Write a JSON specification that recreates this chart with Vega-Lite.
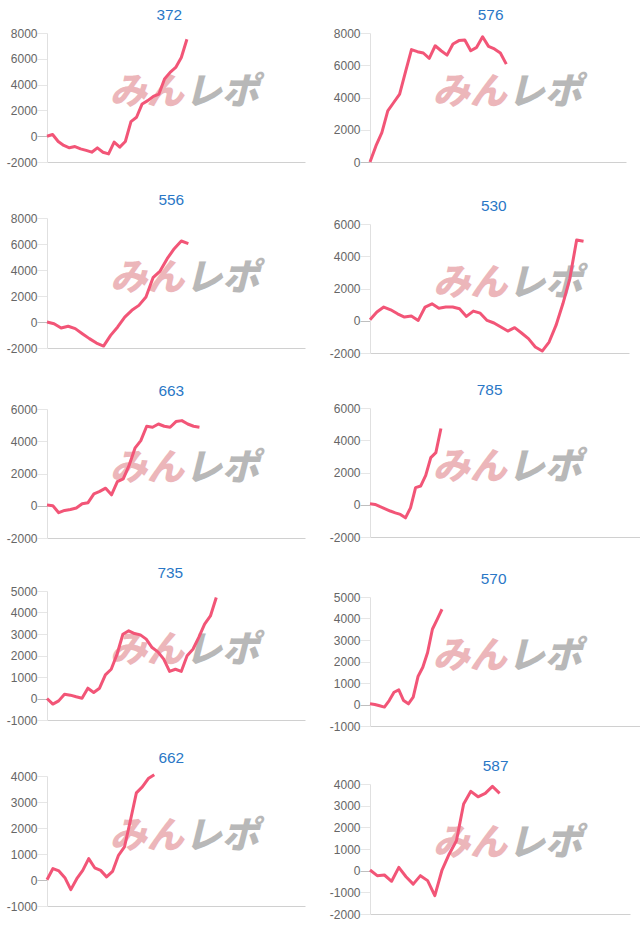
{
  "$schema": "https://vega.github.io/schema/vega-lite/v6.json",
  "background": "white",
  "padding": {"left": 6, "top": 7, "right": 0, "bottom": 0},
  "spacing": 24,
  "config": {
    "view": {"stroke": null},
    "axisY": {"labelFont": "Liberation Sans", "labelFontSize": 12, "labelColor": "#666666", "labelPadding": 0, "tickSize": 10, "domainColor": "#e0e0e0", "title": null, "labelExpr": "'' + datum.value"},
    "axisX": {"labels": false, "ticks": false, "grid": false, "domainColor": "#d0d0d0", "title": null},
    "title": {"font": "Liberation Sans", "fontSize": 15.4, "fontWeight": "normal", "color": "#2a77c6", "frame": "group", "anchor": "middle", "baseline": "bottom", "offset": 4},
    "line": {"color": "#f25577", "strokeWidth": 3, "clip": true, "strokeJoin": "round"},
    "text": {"font": "Noto Sans CJK JP", "fontSize": 37, "fontWeight": 900, "fontStyle": "italic", "baseline": "middle", "dy": 5}
  },
  "hconcat": [
    {
      "vconcat": [
        {
          "width": 258, "height": 129,
          "title": {"text": "372", "dx": -6.7},
          "layer": [
            {"data": {"values": [{}]}, "mark": {"type": "text", "text": "みん", "color": "#ecb6ba", "align": "right", "dx": -2},
             "encoding": {"x": {"datum": 24.8, "type": "quantitative", "scale": {"domain": [0, 46.1], "nice": false, "zero": false}, "axis": {"minExtent": 30, "maxExtent": 30}},
                          "y": {"datum": 3700, "type": "quantitative", "scale": {"domain": [-2000, 8000], "nice": false, "zero": false}, "axis": {"values": [-2000, 0, 2000, 4000, 6000, 8000], "gridColor": {"condition": {"test": "datum.value === 0", "value": "#bfbfbf"}, "value": "#e6e6e6"}, "tickColor": {"condition": {"test": "datum.value === 0", "value": "#bfbfbf"}, "value": "#e6e6e6"}}}}},
            {"data": {"values": [{}]}, "mark": {"type": "text", "text": "レポ", "color": "#b8b8b8", "align": "left", "dx": -1},
             "encoding": {"x": {"datum": 24.8, "type": "quantitative", "scale": {"domain": [0, 46.1], "nice": false, "zero": false}, "axis": {"minExtent": 30, "maxExtent": 30}},
                          "y": {"datum": 3700, "type": "quantitative", "scale": {"domain": [-2000, 8000], "nice": false, "zero": false}, "axis": {"values": [-2000, 0, 2000, 4000, 6000, 8000], "gridColor": {"condition": {"test": "datum.value === 0", "value": "#bfbfbf"}, "value": "#e6e6e6"}, "tickColor": {"condition": {"test": "datum.value === 0", "value": "#bfbfbf"}, "value": "#e6e6e6"}}}}},
            {"data": {"values": [{"i":0,"v":0},{"i":1,"v":130},{"i":2,"v":-410},{"i":3,"v":-720},{"i":4,"v":-900},{"i":5,"v":-800},{"i":6,"v":-980},{"i":7,"v":-1100},{"i":8,"v":-1240},{"i":9,"v":-900},{"i":10,"v":-1240},{"i":11,"v":-1370},{"i":12,"v":-460},{"i":13,"v":-850},{"i":14,"v":-410},{"i":15,"v":1130},{"i":16,"v":1470},{"i":17,"v":2500},{"i":18,"v":2760},{"i":19,"v":3090},{"i":20,"v":3270},{"i":21,"v":4430},{"i":22,"v":4950},{"i":23,"v":5330},{"i":24,"v":6100},{"i":25,"v":7520}]},
             "mark": {"type": "line"},
             "encoding": {"x": {"field": "i", "type": "quantitative", "scale": {"domain": [0, 46.1], "nice": false, "zero": false}, "axis": {"minExtent": 30, "maxExtent": 30}},
                          "y": {"field": "v", "type": "quantitative", "scale": {"domain": [-2000, 8000], "nice": false, "zero": false},
                                "axis": {"values": [-2000, 0, 2000, 4000, 6000, 8000], "gridColor": {"condition": {"test": "datum.value === 0", "value": "#bfbfbf"}, "value": "#e6e6e6"}, "tickColor": {"condition": {"test": "datum.value === 0", "value": "#bfbfbf"}, "value": "#e6e6e6"}}}}}
          ]
        },
        {
          "width": 258, "height": 130,
          "title": {"text": "556", "dx": -4.7},
          "layer": [
            {"data": {"values": [{}]}, "mark": {"type": "text", "text": "みん", "color": "#ecb6ba", "align": "right", "dx": -2},
             "encoding": {"x": {"datum": 19.7, "type": "quantitative", "scale": {"domain": [0, 36.5], "nice": false, "zero": false}, "axis": {"minExtent": 35, "maxExtent": 35}},
                          "y": {"datum": 3730, "type": "quantitative", "scale": {"domain": [-2000, 8000], "nice": false, "zero": false}, "axis": {"values": [-2000, 0, 2000, 4000, 6000, 8000], "gridColor": {"condition": {"test": "datum.value === 0", "value": "#bfbfbf"}, "value": "#e6e6e6"}, "tickColor": {"condition": {"test": "datum.value === 0", "value": "#bfbfbf"}, "value": "#e6e6e6"}}}}},
            {"data": {"values": [{}]}, "mark": {"type": "text", "text": "レポ", "color": "#b8b8b8", "align": "left", "dx": -1},
             "encoding": {"x": {"datum": 19.7, "type": "quantitative", "scale": {"domain": [0, 36.5], "nice": false, "zero": false}, "axis": {"minExtent": 35, "maxExtent": 35}},
                          "y": {"datum": 3730, "type": "quantitative", "scale": {"domain": [-2000, 8000], "nice": false, "zero": false}, "axis": {"values": [-2000, 0, 2000, 4000, 6000, 8000], "gridColor": {"condition": {"test": "datum.value === 0", "value": "#bfbfbf"}, "value": "#e6e6e6"}, "tickColor": {"condition": {"test": "datum.value === 0", "value": "#bfbfbf"}, "value": "#e6e6e6"}}}}},
            {"data": {"values": [{"i":0,"v":0},{"i":1,"v":-130},{"i":2,"v":-460},{"i":3,"v":-330},{"i":4,"v":-510},{"i":5,"v":-900},{"i":6,"v":-1280},{"i":7,"v":-1620},{"i":8,"v":-1850},{"i":9,"v":-1030},{"i":10,"v":-380},{"i":11,"v":380},{"i":12,"v":900},{"i":13,"v":1280},{"i":14,"v":1920},{"i":15,"v":3410},{"i":16,"v":3920},{"i":17,"v":4870},{"i":18,"v":5640},{"i":19,"v":6230},{"i":20,"v":6030}]},
             "mark": {"type": "line"},
             "encoding": {"x": {"field": "i", "type": "quantitative", "scale": {"domain": [0, 36.5], "nice": false, "zero": false}, "axis": {"minExtent": 35, "maxExtent": 35}},
                          "y": {"field": "v", "type": "quantitative", "scale": {"domain": [-2000, 8000], "nice": false, "zero": false},
                                "axis": {"values": [-2000, 0, 2000, 4000, 6000, 8000], "gridColor": {"condition": {"test": "datum.value === 0", "value": "#bfbfbf"}, "value": "#e6e6e6"}, "tickColor": {"condition": {"test": "datum.value === 0", "value": "#bfbfbf"}, "value": "#e6e6e6"}}}}}
          ]
        },
        {
          "width": 258, "height": 129,
          "title": {"text": "663", "dx": -4.7},
          "layer": [
            {"data": {"values": [{}]}, "mark": {"type": "text", "text": "みん", "color": "#ecb6ba", "align": "right", "dx": -2},
             "encoding": {"x": {"datum": 23.7, "type": "quantitative", "scale": {"domain": [0, 44], "nice": false, "zero": false}, "axis": {"minExtent": 27, "maxExtent": 27}},
                          "y": {"datum": 2560, "type": "quantitative", "scale": {"domain": [-2000, 6000], "nice": false, "zero": false}, "axis": {"values": [-2000, 0, 2000, 4000, 6000], "gridColor": {"condition": {"test": "datum.value === 0", "value": "#bfbfbf"}, "value": "#e6e6e6"}, "tickColor": {"condition": {"test": "datum.value === 0", "value": "#bfbfbf"}, "value": "#e6e6e6"}}}}},
            {"data": {"values": [{}]}, "mark": {"type": "text", "text": "レポ", "color": "#b8b8b8", "align": "left", "dx": -1},
             "encoding": {"x": {"datum": 23.7, "type": "quantitative", "scale": {"domain": [0, 44], "nice": false, "zero": false}, "axis": {"minExtent": 27, "maxExtent": 27}},
                          "y": {"datum": 2560, "type": "quantitative", "scale": {"domain": [-2000, 6000], "nice": false, "zero": false}, "axis": {"values": [-2000, 0, 2000, 4000, 6000], "gridColor": {"condition": {"test": "datum.value === 0", "value": "#bfbfbf"}, "value": "#e6e6e6"}, "tickColor": {"condition": {"test": "datum.value === 0", "value": "#bfbfbf"}, "value": "#e6e6e6"}}}}},
            {"data": {"values": [{"i":0,"v":40},{"i":1,"v":0},{"i":2,"v":-430},{"i":3,"v":-290},{"i":4,"v":-230},{"i":5,"v":-140},{"i":6,"v":120},{"i":7,"v":190},{"i":8,"v":740},{"i":9,"v":890},{"i":10,"v":1090},{"i":11,"v":680},{"i":12,"v":1500},{"i":13,"v":1670},{"i":14,"v":2500},{"i":15,"v":3570},{"i":16,"v":4040},{"i":17,"v":4930},{"i":18,"v":4870},{"i":19,"v":5070},{"i":20,"v":4930},{"i":21,"v":4870},{"i":22,"v":5220},{"i":23,"v":5280},{"i":24,"v":5070},{"i":25,"v":4930},{"i":26,"v":4870}]},
             "mark": {"type": "line"},
             "encoding": {"x": {"field": "i", "type": "quantitative", "scale": {"domain": [0, 44], "nice": false, "zero": false}, "axis": {"minExtent": 27, "maxExtent": 27}},
                          "y": {"field": "v", "type": "quantitative", "scale": {"domain": [-2000, 6000], "nice": false, "zero": false},
                                "axis": {"values": [-2000, 0, 2000, 4000, 6000], "gridColor": {"condition": {"test": "datum.value === 0", "value": "#bfbfbf"}, "value": "#e6e6e6"}, "tickColor": {"condition": {"test": "datum.value === 0", "value": "#bfbfbf"}, "value": "#e6e6e6"}}}}}
          ]
        },
        {
          "width": 258, "height": 129,
          "title": {"text": "735", "dx": -5.7},
          "layer": [
            {"data": {"values": [{}]}, "mark": {"type": "text", "text": "みん", "color": "#ecb6ba", "align": "right", "dx": -2},
             "encoding": {"x": {"datum": 23.8, "type": "quantitative", "scale": {"domain": [0, 44.2], "nice": false, "zero": false}, "axis": {"minExtent": 30, "maxExtent": 30}},
                          "y": {"datum": 2420, "type": "quantitative", "scale": {"domain": [-1000, 5000], "nice": false, "zero": false}, "axis": {"values": [-1000, 0, 1000, 2000, 3000, 4000, 5000], "gridColor": {"condition": {"test": "datum.value === 0", "value": "#bfbfbf"}, "value": "#e6e6e6"}, "tickColor": {"condition": {"test": "datum.value === 0", "value": "#bfbfbf"}, "value": "#e6e6e6"}}}}},
            {"data": {"values": [{}]}, "mark": {"type": "text", "text": "レポ", "color": "#b8b8b8", "align": "left", "dx": -1},
             "encoding": {"x": {"datum": 23.8, "type": "quantitative", "scale": {"domain": [0, 44.2], "nice": false, "zero": false}, "axis": {"minExtent": 30, "maxExtent": 30}},
                          "y": {"datum": 2420, "type": "quantitative", "scale": {"domain": [-1000, 5000], "nice": false, "zero": false}, "axis": {"values": [-1000, 0, 1000, 2000, 3000, 4000, 5000], "gridColor": {"condition": {"test": "datum.value === 0", "value": "#bfbfbf"}, "value": "#e6e6e6"}, "tickColor": {"condition": {"test": "datum.value === 0", "value": "#bfbfbf"}, "value": "#e6e6e6"}}}}},
            {"data": {"values": [{"i":0,"v":0},{"i":1,"v":-260},{"i":2,"v":-110},{"i":3,"v":200},{"i":4,"v":155},{"i":5,"v":80},{"i":6,"v":15},{"i":7,"v":480},{"i":8,"v":280},{"i":9,"v":480},{"i":10,"v":1100},{"i":11,"v":1360},{"i":12,"v":2060},{"i":13,"v":2990},{"i":14,"v":3150},{"i":15,"v":3020},{"i":16,"v":2960},{"i":17,"v":2760},{"i":18,"v":2370},{"i":19,"v":2170},{"i":20,"v":1830},{"i":21,"v":1260},{"i":22,"v":1360},{"i":23,"v":1260},{"i":24,"v":1990},{"i":25,"v":2290},{"i":26,"v":2840},{"i":27,"v":3460},{"i":28,"v":3840},{"i":29,"v":4700}]},
             "mark": {"type": "line"},
             "encoding": {"x": {"field": "i", "type": "quantitative", "scale": {"domain": [0, 44.2], "nice": false, "zero": false}, "axis": {"minExtent": 30, "maxExtent": 30}},
                          "y": {"field": "v", "type": "quantitative", "scale": {"domain": [-1000, 5000], "nice": false, "zero": false},
                                "axis": {"values": [-1000, 0, 1000, 2000, 3000, 4000, 5000], "gridColor": {"condition": {"test": "datum.value === 0", "value": "#bfbfbf"}, "value": "#e6e6e6"}, "tickColor": {"condition": {"test": "datum.value === 0", "value": "#bfbfbf"}, "value": "#e6e6e6"}}}}}
          ]
        },
        {
          "width": 258, "height": 130,
          "title": {"text": "662", "dx": -4.7},
          "layer": [
            {"data": {"values": [{}]}, "mark": {"type": "text", "text": "みん", "color": "#ecb6ba", "align": "right", "dx": -2},
             "encoding": {"x": {"datum": 23.3, "type": "quantitative", "scale": {"domain": [0, 43.3], "nice": false, "zero": false}, "axis": {"minExtent": 0, "maxExtent": 0}},
                          "y": {"datum": 1865, "type": "quantitative", "scale": {"domain": [-1000, 4000], "nice": false, "zero": false}, "axis": {"values": [-1000, 0, 1000, 2000, 3000, 4000], "gridColor": {"condition": {"test": "datum.value === 0", "value": "#bfbfbf"}, "value": "#e6e6e6"}, "tickColor": {"condition": {"test": "datum.value === 0", "value": "#bfbfbf"}, "value": "#e6e6e6"}}}}},
            {"data": {"values": [{}]}, "mark": {"type": "text", "text": "レポ", "color": "#b8b8b8", "align": "left", "dx": -1},
             "encoding": {"x": {"datum": 23.3, "type": "quantitative", "scale": {"domain": [0, 43.3], "nice": false, "zero": false}, "axis": {"minExtent": 0, "maxExtent": 0}},
                          "y": {"datum": 1865, "type": "quantitative", "scale": {"domain": [-1000, 4000], "nice": false, "zero": false}, "axis": {"values": [-1000, 0, 1000, 2000, 3000, 4000], "gridColor": {"condition": {"test": "datum.value === 0", "value": "#bfbfbf"}, "value": "#e6e6e6"}, "tickColor": {"condition": {"test": "datum.value === 0", "value": "#bfbfbf"}, "value": "#e6e6e6"}}}}},
            {"data": {"values": [{"i":0,"v":10},{"i":1,"v":440},{"i":2,"v":350},{"i":3,"v":90},{"i":4,"v":-370},{"i":5,"v":50},{"i":6,"v":370},{"i":7,"v":820},{"i":8,"v":470},{"i":9,"v":370},{"i":10,"v":120},{"i":11,"v":330},{"i":12,"v":950},{"i":13,"v":1270},{"i":14,"v":2290},{"i":15,"v":3350},{"i":16,"v":3580},{"i":17,"v":3900},{"i":18,"v":4050}]},
             "mark": {"type": "line"},
             "encoding": {"x": {"field": "i", "type": "quantitative", "scale": {"domain": [0, 43.3], "nice": false, "zero": false}, "axis": {"minExtent": 0, "maxExtent": 0}},
                          "y": {"field": "v", "type": "quantitative", "scale": {"domain": [-1000, 4000], "nice": false, "zero": false},
                                "axis": {"values": [-1000, 0, 1000, 2000, 3000, 4000], "gridColor": {"condition": {"test": "datum.value === 0", "value": "#bfbfbf"}, "value": "#e6e6e6"}, "tickColor": {"condition": {"test": "datum.value === 0", "value": "#bfbfbf"}, "value": "#e6e6e6"}}}}}
          ]
        }
      ],
      "spacing": 0
    },
    {
      "concat": [
        {
          "width": 256, "height": 129,
          "title": {"text": "576", "dx": -7.4},
          "layer": [
            {"data": {"values": [{}]}, "mark": {"type": "text", "text": "みん", "color": "#ecb6ba", "align": "right", "dx": -2},
             "encoding": {"x": {"datum": 23.4, "type": "quantitative", "scale": {"domain": [0, 43.2], "nice": false, "zero": false}, "axis": {"minExtent": 36, "maxExtent": 36}},
                          "y": {"datum": 4560, "type": "quantitative", "scale": {"domain": [0, 8000], "nice": false, "zero": false}, "axis": {"values": [0, 2000, 4000, 6000, 8000], "gridColor": {"condition": {"test": "datum.value === 0", "value": "#bfbfbf"}, "value": "#e6e6e6"}, "tickColor": {"condition": {"test": "datum.value === 0", "value": "#bfbfbf"}, "value": "#e6e6e6"}}}}},
            {"data": {"values": [{}]}, "mark": {"type": "text", "text": "レポ", "color": "#b8b8b8", "align": "left", "dx": -1},
             "encoding": {"x": {"datum": 23.4, "type": "quantitative", "scale": {"domain": [0, 43.2], "nice": false, "zero": false}, "axis": {"minExtent": 36, "maxExtent": 36}},
                          "y": {"datum": 4560, "type": "quantitative", "scale": {"domain": [0, 8000], "nice": false, "zero": false}, "axis": {"values": [0, 2000, 4000, 6000, 8000], "gridColor": {"condition": {"test": "datum.value === 0", "value": "#bfbfbf"}, "value": "#e6e6e6"}, "tickColor": {"condition": {"test": "datum.value === 0", "value": "#bfbfbf"}, "value": "#e6e6e6"}}}}},
            {"data": {"values": [{"i":0,"v":0},{"i":1,"v":995},{"i":2,"v":1820},{"i":3,"v":3170},{"i":4,"v":3690},{"i":5,"v":4210},{"i":6,"v":5600},{"i":7,"v":6970},{"i":8,"v":6840},{"i":9,"v":6760},{"i":10,"v":6430},{"i":11,"v":7210},{"i":12,"v":6900},{"i":13,"v":6630},{"i":14,"v":7320},{"i":15,"v":7530},{"i":16,"v":7570},{"i":17,"v":6900},{"i":18,"v":7110},{"i":19,"v":7770},{"i":20,"v":7170},{"i":21,"v":7010},{"i":22,"v":6760},{"i":23,"v":6070}]},
             "mark": {"type": "line"},
             "encoding": {"x": {"field": "i", "type": "quantitative", "scale": {"domain": [0, 43.2], "nice": false, "zero": false}, "axis": {"minExtent": 36, "maxExtent": 36}},
                          "y": {"field": "v", "type": "quantitative", "scale": {"domain": [0, 8000], "nice": false, "zero": false},
                                "axis": {"values": [0, 2000, 4000, 6000, 8000], "gridColor": {"condition": {"test": "datum.value === 0", "value": "#bfbfbf"}, "value": "#e6e6e6"}, "tickColor": {"condition": {"test": "datum.value === 0", "value": "#bfbfbf"}, "value": "#e6e6e6"}}}}}
          ]
        },
        {
          "width": 259, "height": 129,
          "title": {"text": "530", "dx": -5.7},
          "layer": [
            {"data": {"values": [{}]}, "mark": {"type": "text", "text": "みん", "color": "#ecb6ba", "align": "right", "dx": -2},
             "encoding": {"x": {"datum": 20.2, "type": "quantitative", "scale": {"domain": [0, 37.6], "nice": false, "zero": false}, "axis": {"minExtent": 29, "maxExtent": 29}},
                          "y": {"datum": 2560, "type": "quantitative", "scale": {"domain": [-2000, 6000], "nice": false, "zero": false}, "axis": {"values": [-2000, 0, 2000, 4000, 6000], "gridColor": {"condition": {"test": "datum.value === 0", "value": "#bfbfbf"}, "value": "#e6e6e6"}, "tickColor": {"condition": {"test": "datum.value === 0", "value": "#bfbfbf"}, "value": "#e6e6e6"}}}}},
            {"data": {"values": [{}]}, "mark": {"type": "text", "text": "レポ", "color": "#b8b8b8", "align": "left", "dx": -1},
             "encoding": {"x": {"datum": 20.2, "type": "quantitative", "scale": {"domain": [0, 37.6], "nice": false, "zero": false}, "axis": {"minExtent": 29, "maxExtent": 29}},
                          "y": {"datum": 2560, "type": "quantitative", "scale": {"domain": [-2000, 6000], "nice": false, "zero": false}, "axis": {"values": [-2000, 0, 2000, 4000, 6000], "gridColor": {"condition": {"test": "datum.value === 0", "value": "#bfbfbf"}, "value": "#e6e6e6"}, "tickColor": {"condition": {"test": "datum.value === 0", "value": "#bfbfbf"}, "value": "#e6e6e6"}}}}},
            {"data": {"values": [{"i":0,"v":60},{"i":1,"v":540},{"i":2,"v":850},{"i":3,"v":680},{"i":4,"v":430},{"i":5,"v":230},{"i":6,"v":290},{"i":7,"v":20},{"i":8,"v":850},{"i":9,"v":1050},{"i":10,"v":780},{"i":11,"v":850},{"i":12,"v":850},{"i":13,"v":740},{"i":14,"v":270},{"i":15,"v":600},{"i":16,"v":470},{"i":17,"v":20},{"i":18,"v":-140},{"i":19,"v":-390},{"i":20,"v":-640},{"i":21,"v":-430},{"i":22,"v":-760},{"i":23,"v":-1110},{"i":24,"v":-1630},{"i":25,"v":-1880},{"i":26,"v":-1320},{"i":27,"v":-290},{"i":28,"v":1050},{"i":29,"v":2600},{"i":30,"v":5010},{"i":31,"v":4930}]},
             "mark": {"type": "line"},
             "encoding": {"x": {"field": "i", "type": "quantitative", "scale": {"domain": [0, 37.6], "nice": false, "zero": false}, "axis": {"minExtent": 29, "maxExtent": 29}},
                          "y": {"field": "v", "type": "quantitative", "scale": {"domain": [-2000, 6000], "nice": false, "zero": false},
                                "axis": {"values": [-2000, 0, 2000, 4000, 6000], "gridColor": {"condition": {"test": "datum.value === 0", "value": "#bfbfbf"}, "value": "#e6e6e6"}, "tickColor": {"condition": {"test": "datum.value === 0", "value": "#bfbfbf"}, "value": "#e6e6e6"}}}}}
          ]
        },
        {
          "width": 270, "height": 129,
          "title": {"text": "785", "dx": -15.4},
          "layer": [
            {"data": {"values": [{}]}, "mark": {"type": "text", "text": "みん", "color": "#ecb6ba", "align": "right", "dx": -2},
             "encoding": {"x": {"datum": 27.4, "type": "quantitative", "scale": {"domain": [0, 53.3], "nice": false, "zero": false}, "axis": {"minExtent": 34, "maxExtent": 34}},
                          "y": {"datum": 2560, "type": "quantitative", "scale": {"domain": [-2000, 6000], "nice": false, "zero": false}, "axis": {"values": [-2000, 0, 2000, 4000, 6000], "gridColor": {"condition": {"test": "datum.value === 0", "value": "#bfbfbf"}, "value": "#e6e6e6"}, "tickColor": {"condition": {"test": "datum.value === 0", "value": "#bfbfbf"}, "value": "#e6e6e6"}}}}},
            {"data": {"values": [{}]}, "mark": {"type": "text", "text": "レポ", "color": "#b8b8b8", "align": "left", "dx": -1},
             "encoding": {"x": {"datum": 27.4, "type": "quantitative", "scale": {"domain": [0, 53.3], "nice": false, "zero": false}, "axis": {"minExtent": 34, "maxExtent": 34}},
                          "y": {"datum": 2560, "type": "quantitative", "scale": {"domain": [-2000, 6000], "nice": false, "zero": false}, "axis": {"values": [-2000, 0, 2000, 4000, 6000], "gridColor": {"condition": {"test": "datum.value === 0", "value": "#bfbfbf"}, "value": "#e6e6e6"}, "tickColor": {"condition": {"test": "datum.value === 0", "value": "#bfbfbf"}, "value": "#e6e6e6"}}}}},
            {"data": {"values": [{"i":0,"v":60},{"i":1,"v":20},{"i":2,"v":-120},{"i":3,"v":-250},{"i":4,"v":-390},{"i":5,"v":-500},{"i":6,"v":-600},{"i":7,"v":-810},{"i":8,"v":-190},{"i":9,"v":1060},{"i":10,"v":1160},{"i":11,"v":1820},{"i":12,"v":2920},{"i":13,"v":3230},{"i":14,"v":4730}]},
             "mark": {"type": "line"},
             "encoding": {"x": {"field": "i", "type": "quantitative", "scale": {"domain": [0, 53.3], "nice": false, "zero": false}, "axis": {"minExtent": 34, "maxExtent": 34}},
                          "y": {"field": "v", "type": "quantitative", "scale": {"domain": [-2000, 6000], "nice": false, "zero": false},
                                "axis": {"values": [-2000, 0, 2000, 4000, 6000], "gridColor": {"condition": {"test": "datum.value === 0", "value": "#bfbfbf"}, "value": "#e6e6e6"}, "tickColor": {"condition": {"test": "datum.value === 0", "value": "#bfbfbf"}, "value": "#e6e6e6"}}}}}
          ]
        },
        {
          "width": 270, "height": 129,
          "title": {"text": "570", "dx": -11.4},
          "layer": [
            {"data": {"values": [{}]}, "mark": {"type": "text", "text": "みん", "color": "#ecb6ba", "align": "right", "dx": -2},
             "encoding": {"x": {"datum": 28.9, "type": "quantitative", "scale": {"domain": [0, 56.25], "nice": false, "zero": false}, "axis": {"minExtent": 32, "maxExtent": 32}},
                          "y": {"datum": 2420, "type": "quantitative", "scale": {"domain": [-1000, 5000], "nice": false, "zero": false}, "axis": {"values": [-1000, 0, 1000, 2000, 3000, 4000, 5000], "gridColor": {"condition": {"test": "datum.value === 0", "value": "#bfbfbf"}, "value": "#e6e6e6"}, "tickColor": {"condition": {"test": "datum.value === 0", "value": "#bfbfbf"}, "value": "#e6e6e6"}}}}},
            {"data": {"values": [{}]}, "mark": {"type": "text", "text": "レポ", "color": "#b8b8b8", "align": "left", "dx": -1},
             "encoding": {"x": {"datum": 28.9, "type": "quantitative", "scale": {"domain": [0, 56.25], "nice": false, "zero": false}, "axis": {"minExtent": 32, "maxExtent": 32}},
                          "y": {"datum": 2420, "type": "quantitative", "scale": {"domain": [-1000, 5000], "nice": false, "zero": false}, "axis": {"values": [-1000, 0, 1000, 2000, 3000, 4000, 5000], "gridColor": {"condition": {"test": "datum.value === 0", "value": "#bfbfbf"}, "value": "#e6e6e6"}, "tickColor": {"condition": {"test": "datum.value === 0", "value": "#bfbfbf"}, "value": "#e6e6e6"}}}}},
            {"data": {"values": [{"i":0,"v":30},{"i":1,"v":0},{"i":2,"v":-60},{"i":3,"v":-120},{"i":4,"v":185},{"i":5,"v":570},{"i":6,"v":680},{"i":7,"v":185},{"i":8,"v":30},{"i":9,"v":340},{"i":10,"v":1300},{"i":11,"v":1730},{"i":12,"v":2420},{"i":13,"v":3500},{"i":14,"v":3960},{"i":15,"v":4430}]},
             "mark": {"type": "line"},
             "encoding": {"x": {"field": "i", "type": "quantitative", "scale": {"domain": [0, 56.25], "nice": false, "zero": false}, "axis": {"minExtent": 32, "maxExtent": 32}},
                          "y": {"field": "v", "type": "quantitative", "scale": {"domain": [-1000, 5000], "nice": false, "zero": false},
                                "axis": {"values": [-1000, 0, 1000, 2000, 3000, 4000, 5000], "gridColor": {"condition": {"test": "datum.value === 0", "value": "#bfbfbf"}, "value": "#e6e6e6"}, "tickColor": {"condition": {"test": "datum.value === 0", "value": "#bfbfbf"}, "value": "#e6e6e6"}}}}}
          ]
        },
        {
          "width": 260, "height": 130,
          "title": {"text": "587", "dx": -4.4},
          "layer": [
            {"data": {"values": [{}]}, "mark": {"type": "text", "text": "みん", "color": "#ecb6ba", "align": "right", "dx": -2},
             "encoding": {"x": {"datum": 19.3, "type": "quantitative", "scale": {"domain": [0, 36.1], "nice": false, "zero": false}, "axis": {"minExtent": 0, "maxExtent": 0}},
                          "y": {"datum": 1440, "type": "quantitative", "scale": {"domain": [-2000, 4000], "nice": false, "zero": false}, "axis": {"values": [-2000, -1000, 0, 1000, 2000, 3000, 4000], "gridColor": {"condition": {"test": "datum.value === 0", "value": "#bfbfbf"}, "value": "#e6e6e6"}, "tickColor": {"condition": {"test": "datum.value === 0", "value": "#bfbfbf"}, "value": "#e6e6e6"}}}}},
            {"data": {"values": [{}]}, "mark": {"type": "text", "text": "レポ", "color": "#b8b8b8", "align": "left", "dx": -1},
             "encoding": {"x": {"datum": 19.3, "type": "quantitative", "scale": {"domain": [0, 36.1], "nice": false, "zero": false}, "axis": {"minExtent": 0, "maxExtent": 0}},
                          "y": {"datum": 1440, "type": "quantitative", "scale": {"domain": [-2000, 4000], "nice": false, "zero": false}, "axis": {"values": [-2000, -1000, 0, 1000, 2000, 3000, 4000], "gridColor": {"condition": {"test": "datum.value === 0", "value": "#bfbfbf"}, "value": "#e6e6e6"}, "tickColor": {"condition": {"test": "datum.value === 0", "value": "#bfbfbf"}, "value": "#e6e6e6"}}}}},
            {"data": {"values": [{"i":0,"v":30},{"i":1,"v":-230},{"i":2,"v":-200},{"i":3,"v":-490},{"i":4,"v":150},{"i":5,"v":-280},{"i":6,"v":-620},{"i":7,"v":-230},{"i":8,"v":-460},{"i":9,"v":-1150},{"i":10,"v":30},{"i":11,"v":770},{"i":12,"v":1380},{"i":13,"v":3080},{"i":14,"v":3660},{"i":15,"v":3410},{"i":16,"v":3570},{"i":17,"v":3890},{"i":18,"v":3570}]},
             "mark": {"type": "line"},
             "encoding": {"x": {"field": "i", "type": "quantitative", "scale": {"domain": [0, 36.1], "nice": false, "zero": false}, "axis": {"minExtent": 0, "maxExtent": 0}},
                          "y": {"field": "v", "type": "quantitative", "scale": {"domain": [-2000, 4000], "nice": false, "zero": false},
                                "axis": {"values": [-2000, -1000, 0, 1000, 2000, 3000, 4000], "gridColor": {"condition": {"test": "datum.value === 0", "value": "#bfbfbf"}, "value": "#e6e6e6"}, "tickColor": {"condition": {"test": "datum.value === 0", "value": "#bfbfbf"}, "value": "#e6e6e6"}}}}}
          ]
        }
      ],
      "columns": 1,
      "align": "none",
      "spacing": 0
    }
  ]
}
